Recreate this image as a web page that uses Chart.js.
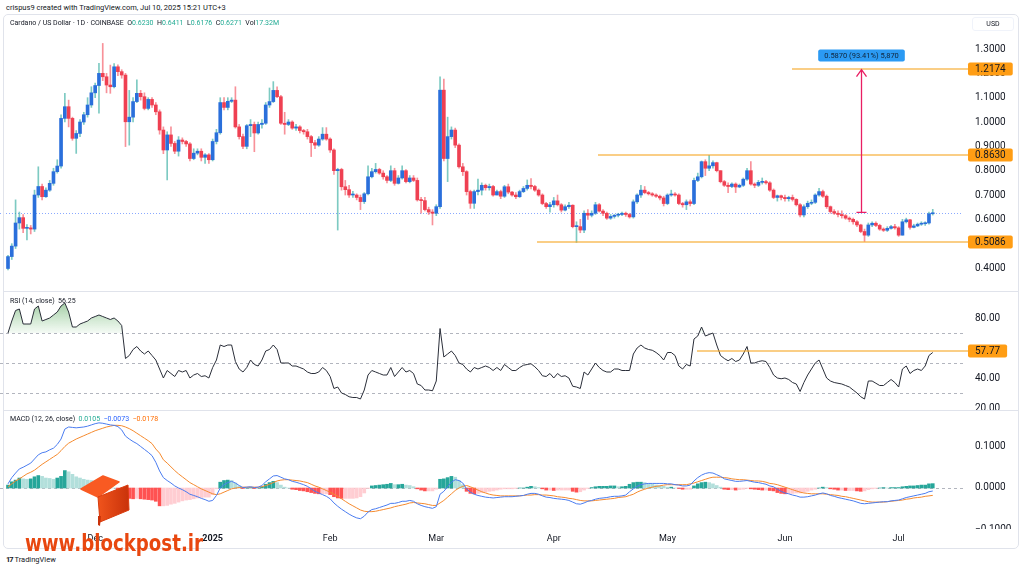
<!DOCTYPE html>
<html>
<head>
<meta charset="utf-8">
<title>Cardano / US Dollar · 1D · COINBASE</title>
<script src="https://cdn.jsdelivr.net/npm/chart.js@4.4.1/dist/chart.umd.min.js"></script>
<style>
  html, body { margin: 0; padding: 0; background: #fff; }
  body { width: 1024px; height: 570px; position: relative; overflow: hidden;
         font-family: Roboto, "Liberation Sans", Arial, sans-serif; color: #131722; }
  canvas { position: absolute; left: 0; }
  .abs { position: absolute; white-space: nowrap; }
  .hdr { left: 6px; top: 3px; font-size: 7.5px; line-height: 10px; }
  .frame { left: 3px; top: 14px; width: 1014px; height: 533px; border: 1px solid #e0e3eb;
           border-radius: 5px; pointer-events: none; z-index: 2; }
  .sep { left: 3px; width: 1015px; height: 1px; background: #e0e3eb; z-index: 2; }
  .legend { left: 10px; font-size: 7px; line-height: 9px; z-index: 3; }
  .usd { left: 972px; top: 17px; width: 40px; height: 12px; font-size: 7px; line-height: 12px;
         text-align: center; border: 1px solid #f0f3fa; border-radius: 3px; z-index: 3; }
  .mark { left: 25px; top: 530px; font-family: "DejaVu Sans", sans-serif;
          font-weight: bold; font-size: 23px; line-height: 26px; color: #e8470f; z-index: 4;
          transform-origin: left center; }
  .logo { left: 0; top: 0; z-index: 4; }
  .foot { left: 6px; top: 555px; font-size: 7.5px; line-height: 10px; }
</style>
</head>
<body>
<div class="abs hdr">crispus9 created with TradingView.com, Jul 10, 2025 15:21 UTC+3</div>

<canvas id="price" width="1024" height="260" style="top:31px"></canvas>
<canvas id="rsi" width="1024" height="119" style="top:291px"></canvas>
<canvas id="macd" width="1024" height="138" style="top:410px"></canvas>

<div class="abs frame"></div>
<div class="abs sep" style="top:291px"></div>
<div class="abs sep" style="top:410px"></div>
<div class="abs usd">USD</div>

<div class="abs legend" id="ohlc" style="top:19px"></div>
<div class="abs legend" id="rsiLegend" style="top:297px"></div>
<div class="abs legend" id="macdLegend" style="top:415px"></div>

<svg class="abs logo" width="140" height="530" viewBox="0 0 140 530">
  <defs>
    <linearGradient id="front" x1="0" y1="0" x2="1" y2="0">
      <stop offset="0" stop-color="#f0541c"/>
      <stop offset="1" stop-color="#c9320a"/>
    </linearGradient>
  </defs>
  <polygon points="81,489 103,476 119,482 98,497" fill="#f95a22" stroke="#f95a22" stroke-width="1.5" stroke-linejoin="round"/>
  <polygon points="98,497 128,485 129,510 100,522" fill="url(#front)" stroke="#d93c0d" stroke-width="1" stroke-linejoin="round"/>
  <polygon points="98,516 101,516 100,526 98,525" fill="#c9320a"/>
</svg>
<div class="abs mark" id="mark">www.blockpost.ir</div>
<div class="abs foot"><b style="letter-spacing:-1px">17</b>&nbsp;TradingView</div>

<script>
// Cardano / US Dollar, 1D, Coinbase: 8 Nov 2024 .. 10 Jul 2025 (index 0 = 8 Nov)
const firstOpen = 0.398;
const closes = [
  0.447, 0.49, 0.585, 0.607, 0.563, 0.565, 0.56, 0.70, 0.735, 0.693,
  0.72, 0.748, 0.796, 0.819, 1.015, 1.063, 1.015, 0.933, 0.953, 1.00,
  1.03, 1.07, 1.12, 1.15, 1.20, 1.186, 1.152, 1.145, 1.227, 1.207,
  1.193, 1.001, 1.02, 1.084, 1.118, 1.104, 1.056, 1.093, 1.07, 1.042,
  0.967, 0.885, 0.947, 0.912, 0.88, 0.926, 0.92, 0.91, 0.85, 0.872,
  0.88, 0.855, 0.865, 0.845, 0.92, 0.956, 1.08, 1.06, 1.085, 1.09,
  0.98, 0.94, 0.90, 0.985, 0.99, 0.955, 0.99, 0.995, 1.07, 1.084,
  1.13, 1.104, 0.995, 0.99, 1.0, 0.975, 0.98, 0.965, 0.96, 0.94,
  0.915, 0.905, 0.93, 0.95, 0.93, 0.885, 0.80, 0.805, 0.734, 0.722,
  0.70, 0.70, 0.69, 0.673, 0.705, 0.775, 0.796, 0.805, 0.79, 0.775,
  0.76, 0.80, 0.748, 0.77, 0.80, 0.755, 0.77, 0.76, 0.68, 0.677,
  0.64, 0.63, 0.625, 0.652, 1.131, 0.85, 0.94, 0.967, 0.905, 0.816,
  0.796, 0.714, 0.666, 0.714, 0.72, 0.74, 0.73, 0.735, 0.70, 0.714,
  0.695, 0.734, 0.712, 0.70, 0.693, 0.714, 0.727, 0.74, 0.735, 0.72,
  0.70, 0.665, 0.652, 0.66, 0.676, 0.66, 0.638, 0.652, 0.658, 0.57,
  0.57, 0.556, 0.625, 0.617, 0.625, 0.66, 0.634, 0.625, 0.605, 0.612,
  0.617, 0.62, 0.625, 0.62, 0.61, 0.672, 0.70, 0.72, 0.71, 0.705,
  0.70, 0.695, 0.688, 0.665, 0.70, 0.704, 0.70, 0.665, 0.66, 0.672,
  0.665, 0.76, 0.775, 0.837, 0.81, 0.82, 0.833, 0.80, 0.755, 0.74,
  0.735, 0.745, 0.733, 0.74, 0.765, 0.80, 0.745, 0.74, 0.752, 0.755,
  0.75, 0.72, 0.69, 0.697, 0.69, 0.685, 0.69, 0.682, 0.66, 0.618,
  0.652, 0.666, 0.67, 0.70, 0.714, 0.695, 0.652, 0.632, 0.625, 0.62,
  0.615, 0.605, 0.60, 0.59, 0.577, 0.55, 0.535, 0.577, 0.584, 0.575,
  0.56, 0.555, 0.563, 0.57, 0.565, 0.535, 0.59, 0.598, 0.567, 0.573,
  0.58, 0.582, 0.585, 0.623, 0.6271
];
const highs = [
  0.452, 0.50, 0.68, 0.63, 0.62, 0.578, 0.575, 0.72, 0.816, 0.745,
  0.73, 0.76, 0.81, 0.845, 1.03, 1.118, 1.09, 1.02, 0.965, 1.01,
  1.04, 1.10, 1.145, 1.16, 1.241, 1.323, 1.20, 1.234, 1.24, 1.235,
  1.215, 1.20, 1.13, 1.10, 1.173, 1.13, 1.12, 1.10, 1.10, 1.08,
  1.05, 0.98, 0.96, 0.98, 0.92, 0.94, 0.935, 0.925, 0.915, 0.89,
  0.89, 0.89, 0.87, 0.87, 0.93, 0.97, 1.10, 1.10, 1.10, 1.10,
  1.145, 0.99, 0.95, 0.99, 1.01, 1.0, 1.0, 1.01, 1.08, 1.14,
  1.166, 1.145, 1.11, 1.04, 1.01, 1.005, 0.99, 0.985, 0.97, 0.97,
  0.945, 0.925, 0.94, 0.977, 0.977, 0.935, 0.89, 0.81, 0.81, 0.76,
  0.74, 0.715, 0.705, 0.70, 0.71, 0.82, 0.81, 0.83, 0.81, 0.80,
  0.78, 0.82, 0.81, 0.78, 0.82, 0.805, 0.78, 0.78, 0.77, 0.69,
  0.69, 0.65, 0.64, 0.66, 1.186, 1.176, 1.02, 0.98, 0.975, 0.91,
  0.83, 0.80, 0.72, 0.72, 0.765, 0.75, 0.745, 0.745, 0.74, 0.72,
  0.72, 0.74, 0.745, 0.715, 0.71, 0.72, 0.735, 0.762, 0.768, 0.74,
  0.725, 0.705, 0.67, 0.67, 0.69, 0.70, 0.665, 0.66, 0.67, 0.66,
  0.59, 0.60, 0.635, 0.64, 0.635, 0.67, 0.665, 0.64, 0.63, 0.62,
  0.62, 0.625, 0.63, 0.63, 0.625, 0.68, 0.705, 0.74, 0.735, 0.715,
  0.71, 0.705, 0.70, 0.695, 0.705, 0.72, 0.71, 0.705, 0.67, 0.68,
  0.68, 0.77, 0.79, 0.84, 0.845, 0.863, 0.84, 0.835, 0.80, 0.76,
  0.75, 0.75, 0.75, 0.745, 0.77, 0.81, 0.837, 0.75, 0.76, 0.77,
  0.76, 0.755, 0.725, 0.70, 0.70, 0.70, 0.695, 0.70, 0.685, 0.665,
  0.66, 0.675, 0.68, 0.705, 0.727, 0.72, 0.70, 0.655, 0.64, 0.635,
  0.635, 0.62, 0.61, 0.605, 0.595, 0.58, 0.56, 0.585, 0.59, 0.59,
  0.58, 0.565, 0.57, 0.575, 0.58, 0.57, 0.60, 0.605, 0.60, 0.58,
  0.585, 0.59, 0.59, 0.63, 0.6411
];
const lows = [
  0.392, 0.435, 0.48, 0.56, 0.545, 0.515, 0.54, 0.55, 0.69, 0.68,
  0.69, 0.715, 0.74, 0.79, 0.81, 1.0, 0.98, 0.925, 0.871, 0.94,
  0.99, 1.02, 1.06, 1.10, 1.036, 1.17, 1.12, 1.118, 1.14, 1.19,
  1.18, 0.899, 0.905, 1.0, 1.08, 1.09, 1.05, 1.05, 1.06, 1.03,
  0.95, 0.87, 0.762, 0.90, 0.87, 0.86, 0.91, 0.90, 0.84, 0.845,
  0.865, 0.84, 0.83, 0.83, 0.84, 0.91, 0.95, 1.05, 1.05, 1.08,
  0.975, 0.93, 0.89, 0.89, 0.94, 0.878, 0.95, 0.975, 0.99, 1.06,
  1.08, 1.10, 0.99, 0.95, 0.985, 0.97, 0.965, 0.955, 0.95, 0.93,
  0.858, 0.89, 0.90, 0.925, 0.925, 0.875, 0.785, 0.556, 0.72, 0.70,
  0.69, 0.69, 0.68, 0.64, 0.665, 0.70, 0.77, 0.79, 0.785, 0.765,
  0.75, 0.755, 0.74, 0.745, 0.765, 0.75, 0.75, 0.755, 0.675, 0.625,
  0.635, 0.62, 0.577, 0.615, 0.645, 0.84, 0.755, 0.93, 0.895, 0.81,
  0.78, 0.70, 0.645, 0.645, 0.70, 0.70, 0.72, 0.72, 0.695, 0.70,
  0.685, 0.69, 0.705, 0.695, 0.685, 0.69, 0.71, 0.72, 0.725, 0.715,
  0.695, 0.66, 0.645, 0.63, 0.65, 0.655, 0.63, 0.635, 0.645, 0.565,
  0.505, 0.545, 0.545, 0.60, 0.61, 0.62, 0.63, 0.615, 0.60, 0.60,
  0.605, 0.61, 0.615, 0.612, 0.605, 0.605, 0.665, 0.69, 0.705, 0.70,
  0.695, 0.69, 0.68, 0.655, 0.66, 0.695, 0.695, 0.66, 0.65, 0.64,
  0.655, 0.66, 0.755, 0.77, 0.78, 0.80, 0.81, 0.795, 0.75, 0.735,
  0.71, 0.73, 0.71, 0.73, 0.735, 0.76, 0.74, 0.73, 0.735, 0.745,
  0.745, 0.715, 0.685, 0.675, 0.68, 0.675, 0.675, 0.675, 0.655, 0.61,
  0.61, 0.645, 0.66, 0.665, 0.695, 0.69, 0.645, 0.625, 0.62, 0.61,
  0.605, 0.60, 0.59, 0.58, 0.57, 0.545, 0.509, 0.53, 0.57, 0.57,
  0.555, 0.55, 0.55, 0.56, 0.56, 0.53, 0.535, 0.585, 0.56, 0.565,
  0.57, 0.575, 0.575, 0.58, 0.6176
];
const volumeText = '17.32M';

// RSI (14, close)
const rsi = [
  70, 78, 85, 86, 76, 76, 76, 86, 88, 78,
  79, 80, 82, 84, 88, 90, 84, 74, 74, 76,
  77, 78, 80, 81, 82, 81, 80, 79, 80, 78,
  75, 53, 55, 59, 61, 58, 56, 58, 55, 52,
  46, 40, 45, 43, 41, 45, 44, 45, 40, 42,
  43, 41, 41.5, 40, 47, 52, 62, 61, 62, 62,
  51, 46, 44, 47, 52, 49, 48, 52, 58, 59,
  62, 59, 50, 50, 50, 48, 48, 47, 46, 44,
  43, 43, 44, 47, 45, 41, 33, 34, 30, 29,
  27.5, 27, 27, 26, 32, 42, 45, 44, 43, 42,
  42, 47, 41, 44, 47, 44, 45, 43, 36, 35,
  32, 32, 31.5, 38, 73, 54, 56, 58, 55, 50,
  49, 46, 44, 47, 46, 47, 48, 47, 45, 47,
  45, 49, 47, 45, 45, 47, 48.5, 49, 49.5, 47.5,
  45, 41.5, 41, 43, 40, 43, 41, 41.5, 40, 34.5,
  34, 33, 44, 42, 46, 50, 47, 45, 44, 44,
  46, 46, 45, 45, 45, 56, 60, 62, 60, 59,
  58.5, 57, 55, 52, 57, 57, 55, 48, 46, 49,
  48, 66, 68, 74, 68, 69, 70, 62, 55, 53,
  51.5, 53, 51, 52, 56, 61, 50, 50, 51, 51.5,
  51, 47, 42, 40, 39.5, 40, 39, 37, 36, 31,
  37, 42, 46, 50, 52, 46, 40, 38, 37, 36.5,
  36, 35, 34, 32, 30, 27.5, 26, 38, 38, 36.5,
  35, 35, 37, 39, 37, 34, 46, 48, 43, 45,
  46, 45, 48, 55, 57
];
const rsiLegendValue = '56.25';

// MACD (12, 26, close)
const macd = [
  0.010, 0.025, 0.036, 0.046, 0.050, 0.055, 0.060, 0.070, 0.080, 0.085,
  0.087, 0.092, 0.096, 0.105, 0.118, 0.142, 0.147, 0.146, 0.145, 0.146,
  0.147, 0.149, 0.152, 0.155, 0.157, 0.156, 0.154, 0.152, 0.151, 0.148,
  0.140, 0.125, 0.118, 0.112, 0.107, 0.100, 0.093, 0.086, 0.078, 0.062,
  0.041, 0.025, 0.018, 0.012, 0.005, 0.000, -0.004, -0.009, -0.015, -0.018,
  -0.021, -0.025, -0.028, -0.032, -0.030, -0.018, 0.000, 0.008, 0.013, 0.016,
  0.012, 0.006, 0.001, 0.002, 0.003, 0.001, 0.002, 0.006, 0.015, 0.022,
  0.029, 0.030, 0.026, 0.022, 0.020, 0.016, 0.014, 0.011, 0.008, 0.004,
  -0.002, -0.008, -0.012, -0.016, -0.020, -0.026, -0.036, -0.044, -0.051, -0.057,
  -0.063, -0.068, -0.072, -0.074, -0.068, -0.058, -0.052, -0.050, -0.047, -0.044,
  -0.041, -0.037, -0.037, -0.035, -0.032, -0.032, -0.030, -0.032, -0.038, -0.042,
  -0.045, -0.047, -0.049, -0.045, -0.015, -0.008, 0.003, 0.014, 0.020, 0.018,
  0.012, -0.002, -0.010, -0.015, -0.018, -0.020, -0.022, -0.023, -0.024, -0.023,
  -0.022, -0.021, -0.021, -0.021, -0.020, -0.019, -0.018, -0.015, -0.013, -0.013,
  -0.015, -0.019, -0.022, -0.023, -0.025, -0.026, -0.027, -0.028, -0.030, -0.034,
  -0.038, -0.039, -0.036, -0.032, -0.030, -0.027, -0.025, -0.024, -0.023, -0.021,
  -0.020, -0.020, -0.019, -0.017, -0.009, -0.002, 0.004, 0.008, 0.010, 0.011,
  0.011, 0.011, 0.011, 0.011, 0.010, 0.010, 0.008, 0.007, 0.005, 0.005,
  0.007, 0.017, 0.025, 0.031, 0.035, 0.037, 0.036, 0.032, 0.028, 0.022,
  0.020, 0.018, 0.016, 0.016, 0.017, 0.018, 0.016, 0.014, 0.013, 0.011,
  0.009, 0.005, 0.003, -0.003, -0.008, -0.012, -0.014, -0.017, -0.019, -0.022,
  -0.022, -0.021, -0.019, -0.017, -0.014, -0.012, -0.014, -0.018, -0.020, -0.023,
  -0.025, -0.027, -0.029, -0.031, -0.034, -0.037, -0.038, -0.037, -0.036, -0.035,
  -0.034, -0.033, -0.033, -0.031, -0.030, -0.029, -0.026, -0.023, -0.021, -0.019,
  -0.017, -0.015, -0.013, -0.009, -0.0073
];
const signal = [
  0.003, 0.010, 0.017, 0.022, 0.028, 0.034, 0.038, 0.043, 0.050, 0.057,
  0.063, 0.069, 0.075, 0.081, 0.090, 0.100, 0.108, 0.113, 0.118, 0.122,
  0.126, 0.130, 0.134, 0.138, 0.141, 0.144, 0.147, 0.149, 0.151, 0.151,
  0.150, 0.147, 0.143, 0.138, 0.132, 0.126, 0.120, 0.114, 0.107, 0.094,
  0.084, 0.068, 0.060, 0.051, 0.042, 0.034, 0.027, 0.020, 0.013, 0.008,
  0.003, -0.002, -0.006, -0.010, -0.014, -0.016, -0.014, -0.010, -0.006, -0.002,
  0.000, 0.001, 0.002, 0.002, 0.002, 0.002, 0.002, 0.003, 0.006, 0.009,
  0.013, 0.017, 0.019, 0.020, 0.020, 0.019, 0.018, 0.017, 0.015, 0.013,
  0.009, 0.005, 0.002, -0.002, -0.006, -0.010, -0.015, -0.020, -0.026, -0.032,
  -0.038, -0.043, -0.048, -0.053, -0.056, -0.057, -0.057, -0.056, -0.054, -0.052,
  -0.050, -0.048, -0.045, -0.043, -0.041, -0.039, -0.036, -0.035, -0.036, -0.037,
  -0.038, -0.040, -0.042, -0.042, -0.036, -0.030, -0.022, -0.014, -0.006, 0.000,
  0.004, 0.006, 0.003, -0.001, -0.005, -0.009, -0.012, -0.015, -0.017, -0.018,
  -0.019, -0.019, -0.019, -0.019, -0.019, -0.019, -0.018, -0.017, -0.017, -0.016,
  -0.016, -0.017, -0.017, -0.018, -0.019, -0.021, -0.022, -0.023, -0.025, -0.026,
  -0.028, -0.030, -0.031, -0.031, -0.031, -0.030, -0.029, -0.028, -0.027, -0.026,
  -0.025, -0.023, -0.022, -0.021, -0.018, -0.015, -0.010, -0.006, -0.003, 0.000,
  0.002, 0.004, 0.005, 0.007, 0.008, 0.008, 0.008, 0.008, 0.008, 0.008,
  0.010, 0.012, 0.015, 0.018, 0.021, 0.024, 0.026, 0.026, 0.026, 0.025,
  0.024, 0.022, 0.021, 0.020, 0.020, 0.019, 0.018, 0.017, 0.017, 0.016,
  0.014, 0.011, 0.010, 0.008, 0.005, 0.002, -0.001, -0.004, -0.007, -0.010,
  -0.012, -0.013, -0.014, -0.014, -0.014, -0.014, -0.015, -0.016, -0.017, -0.018,
  -0.020, -0.021, -0.023, -0.025, -0.027, -0.029, -0.031, -0.033, -0.034, -0.034,
  -0.034, -0.034, -0.033, -0.032, -0.031, -0.030, -0.029, -0.027, -0.026, -0.024,
  -0.023, -0.022, -0.020, -0.019, -0.0178
];
const hist = [
  0.007, 0.015, 0.019, 0.024, 0.022, 0.021, 0.022, 0.027, 0.030, 0.028,
  0.024, 0.023, 0.021, 0.024, 0.028, 0.042, 0.039, 0.033, 0.027, 0.024,
  0.021, 0.019, 0.018, 0.017, 0.016, 0.012, 0.007, 0.003, 0.000, -0.003,
  -0.010, -0.022, -0.025, -0.026, -0.025, -0.026, -0.027, -0.028, -0.029, -0.032,
  -0.043, -0.043, -0.042, -0.039, -0.037, -0.034, -0.031, -0.029, -0.028, -0.026,
  -0.024, -0.023, -0.022, -0.022, -0.016, -0.002, 0.014, 0.018, 0.019, 0.018,
  0.012, 0.005, -0.001, 0.000, 0.001, -0.001, 0.000, 0.003, 0.009, 0.013,
  0.016, 0.013, 0.007, 0.002, 0.000, -0.003, -0.004, -0.006, -0.007, -0.009,
  -0.011, -0.013, -0.014, -0.014, -0.014, -0.016, -0.021, -0.024, -0.025, -0.025,
  -0.025, -0.025, -0.024, -0.021, -0.012, -0.001, 0.005, 0.006, 0.007, 0.008,
  0.009, 0.011, 0.008, 0.008, 0.009, 0.007, 0.006, 0.003, -0.002, -0.005,
  -0.007, -0.007, -0.007, -0.003, 0.021, 0.022, 0.025, 0.028, 0.026, 0.018,
  0.008, -0.008, -0.013, -0.014, -0.013, -0.011, -0.010, -0.008, -0.007, -0.005,
  -0.003, -0.002, -0.002, -0.002, -0.001, 0.000, 0.000, 0.002, 0.004, 0.003,
  0.001, -0.002, -0.005, -0.005, -0.006, -0.005, -0.005, -0.005, -0.005, -0.008,
  -0.010, -0.009, -0.005, -0.001, 0.001, 0.003, 0.004, 0.004, 0.004, 0.005,
  0.005, 0.003, 0.003, 0.004, 0.009, 0.013, 0.014, 0.014, 0.013, 0.011,
  0.009, 0.007, 0.006, 0.004, 0.002, 0.002, 0.000, -0.001, -0.003, -0.003,
  -0.003, 0.005, 0.010, 0.013, 0.014, 0.013, 0.010, 0.006, 0.002, -0.003,
  -0.004, -0.004, -0.005, -0.004, -0.003, -0.001, -0.002, -0.003, -0.004, -0.005,
  -0.005, -0.006, -0.007, -0.011, -0.013, -0.014, -0.013, -0.013, -0.012, -0.012,
  -0.010, -0.008, -0.005, -0.003, 0.000, 0.002, 0.001, -0.002, -0.003, -0.005,
  -0.005, -0.006, -0.006, -0.006, -0.007, -0.008, -0.007, -0.004, -0.002, -0.001,
  0.000, 0.001, 0.000, 0.001, 0.001, 0.001, 0.003, 0.004, 0.005, 0.005,
  0.006, 0.007, 0.007, 0.010, 0.0105
];

// axis ticks (the 60.00 RSI tick sits under the 57.77 marker and is hidden there)
const monthIdx = [23, 54, 85, 113, 144, 174, 205, 235];
const monthLabels = ['Dec', '2025', 'Feb', 'Mar', 'Apr', 'May', 'Jun', 'Jul'];
const priceTicks = [0.4, 0.5, 0.6, 0.7, 0.8, 0.9, 1.0, 1.1, 1.2, 1.3];
const rsiTicks = [20, 40, 80];
const rsiBands = [70, 50, 30];
const macdTicks = [-0.1, 0, 0.1];

// drawings on the chart
const levelPrices = [1.2174, 0.8630, 0.5086];
const levelStartIdx = [206.8, 155.7, 139.6];
const measureIdx = 225.1;
const measureFrom = 0.6284;
const measureTo = 1.2154;
const measureText = '0.5870 (93.41%) 5,870';
const rsiLevel = 57.77;
const rsiLevelStartIdx = 181.7;

const n = closes.length;
[highs, lows, rsi, macd, signal, hist].forEach(a => {
  if (a.length !== n) throw new Error('length mismatch ' + a.length + ' vs ' + n);
});

// visible window of each pane
const X_MIN = -2.11, X_MAX = 251.98;
const PRICE_MIN = 0.3055, PRICE_MAX = 1.3741;
const RSI_MIN = 18.667, RSI_MAX = 98;
const MACD_MIN = -0.0988, MACD_MAX = 0.18795;

const UP = '#2a6fdb', DOWN = '#ef4052';
const UP_WICK = 'rgba(38,166,154,0.6)', DOWN_WICK = 'rgba(242,54,69,0.55)';
const LEVEL = 'rgba(245,166,35,0.55)', LEVEL_BOX = '#ff9d14';
const FONT = 'Roboto, "Liberation Sans", Arial, sans-serif';

Chart.defaults.font.family = FONT;
Chart.defaults.color = '#131722';

const minus = (v, d) => (v < 0 ? '\u2212' : '') + Math.abs(v).toFixed(d);

// legends
const last = n - 1;
const lastOpen = closes[last - 1];
const g = s => '<span style="color:#22ab94">' + s + '</span>';
document.getElementById('ohlc').innerHTML =
  'Cardano / US Dollar \u00b7 1D \u00b7 COINBASE&nbsp;&nbsp;O' + g(lastOpen.toFixed(4)) +
  '&nbsp; H' + g(highs[last].toFixed(4)) + '&nbsp; L' + g(lows[last].toFixed(4)) +
  '&nbsp; C' + g(closes[last].toFixed(4)) + '&nbsp; Vol' + g(volumeText);
document.getElementById('rsiLegend').innerHTML = 'RSI (14, close)&nbsp;&nbsp;' + rsiLegendValue;
document.getElementById('macdLegend').innerHTML = 'MACD (12, 26, close)&nbsp;&nbsp;' +
  g(minus(hist[last], 4)) + '&nbsp;&nbsp;<span style="color:#2962ff">' + minus(macd[last], 4) +
  '</span>&nbsp;&nbsp;<span style="color:#ff6d00">' + minus(signal[last], 4) + '</span>';

const mark = document.getElementById('mark');
mark.style.transform = 'scaleX(' + (178 / mark.offsetWidth) + ')';

// candles: daily opens on Coinbase equal the previous close
const opens = closes.map((c, i) => (i === 0 ? firstOpen : closes[i - 1]));
const isUp = closes.map((c, i) => c >= opens[i]);
const bodies = closes.map((c, i) => ({ x: i, y: [opens[i], c] }));
const wicks = closes.map((c, i) => ({
  x: i, y: [Math.min(lows[i], opens[i], c), Math.max(highs[i], opens[i], c)]
}));

function xAxis(show) {
  return {
    type: 'linear', min: X_MIN, max: X_MAX, offset: false, bounds: 'data', display: show,
    grid: { display: false, drawTicks: false }, border: { display: false },
    afterBuildTicks: s => { s.ticks = monthIdx.map(v => ({ value: v })); },
    afterFit: s => {
      if (show) s.height = 19;
      s.paddingLeft = 0; s.paddingRight = 0;
    },
    ticks: {
      autoSkip: false, maxRotation: 0, padding: 4, color: '#131722',
      font: c => ({ size: 9, weight: monthLabels[c.index] === '2025' ? 'bold' : 'normal' }),
      callback: (v, i) => monthLabels[i]
    }
  };
}

function yAxis(min, max, ticks, fmt) {
  return {
    type: 'linear', position: 'right', min, max, bounds: 'data', grace: 0,
    grid: { display: false, drawTicks: false }, border: { display: false },
    afterBuildTicks: s => { s.ticks = ticks.map(v => ({ value: v })); },
    afterFit: s => { s.width = 61; s.paddingTop = 0; s.paddingBottom = 0; },
    ticks: { autoSkip: false, padding: 12, color: '#131722', font: { size: 10 }, callback: v => fmt(v) }
  };
}

const baseOptions = {
  responsive: false, animation: false, devicePixelRatio: 1,
  layout: { padding: 0 },
  plugins: { legend: { display: false }, tooltip: { enabled: false } }
};

function axisBox(chart, value, text) {
  const { ctx, chartArea, scales } = chart;
  const y = Math.round(scales.y.getPixelForValue(value));
  ctx.save();
  ctx.font = '10px ' + FONT;
  const w = ctx.measureText(text).width + 14;
  const x = chartArea.right + 5;
  ctx.fillStyle = LEVEL_BOX;
  ctx.beginPath(); ctx.roundRect(x, y - 6.5, w, 13, 2); ctx.fill();
  ctx.fillStyle = '#131722'; ctx.textBaseline = 'middle'; ctx.textAlign = 'left';
  ctx.fillText(text, x + 7, y + 0.5);
  ctx.restore();
}

// horizontal rule at a value of the pane's y scale
function levelRule(chart, value, fromX, toX) {
  const { ctx, scales } = chart;
  const y = scales.y.getPixelForValue(value);
  ctx.save();
  ctx.fillStyle = LEVEL;
  ctx.fillRect(Math.round(fromX), Math.round(y) - 1, Math.round(toX - fromX), 2);
  ctx.restore();
}

function dashedRule(chart, value, color, dash) {
  const { ctx, chartArea, scales } = chart;
  const y = Math.round(scales.y.getPixelForValue(value)) + 0.5;
  ctx.save();
  ctx.strokeStyle = color; ctx.lineWidth = 1; ctx.setLineDash(dash);
  ctx.beginPath(); ctx.moveTo(chartArea.left, y); ctx.lineTo(chartArea.right, y); ctx.stroke();
  ctx.restore();
}

const pricePane = {
  id: 'pricePane',
  beforeDatasetsDraw(chart) {
    dashedRule(chart, closes[last], 'rgba(41,98,255,0.55)', [1, 2]);
  },
  afterDraw(chart) {
    const { ctx, chartArea, scales: { x, y } } = chart;
    levelPrices.forEach((p, k) => {
      levelRule(chart, p, x.getPixelForValue(levelStartIdx[k]), chartArea.right + 5);
      axisBox(chart, p, p.toFixed(4));
    });
    // price range measurement
    const ax = Math.round(x.getPixelForValue(measureIdx)) + 0.5;
    const yTop = y.getPixelForValue(measureTo), yBot = y.getPixelForValue(measureFrom);
    ctx.save();
    ctx.strokeStyle = '#e91e63'; ctx.lineWidth = 1.3;
    ctx.beginPath();
    ctx.moveTo(ax, yBot); ctx.lineTo(ax, yTop);
    ctx.moveTo(ax - 5, yTop + 7); ctx.lineTo(ax, yTop); ctx.lineTo(ax + 5, yTop + 7);
    ctx.moveTo(ax - 5, yBot); ctx.lineTo(ax + 5, yBot);
    ctx.stroke();
    ctx.font = '7.5px ' + FONT;
    const bw = ctx.measureText(measureText).width + 12;
    ctx.fillStyle = '#2b9af3';
    ctx.beginPath(); ctx.roundRect(ax - bw / 2, yTop - 20, bw, 12, 2); ctx.fill();
    ctx.fillStyle = '#10243a'; ctx.textAlign = 'center'; ctx.textBaseline = 'middle';
    ctx.fillText(measureText, ax, yTop - 13.5);
    ctx.restore();
  }
};

new Chart(document.getElementById('price'), {
  type: 'bar',
  data: {
    datasets: [
      { data: bodies, backgroundColor: isUp.map(u => (u ? UP : DOWN)),
        barThickness: 3, minBarLength: 1, grouped: false, order: 0 },
      { data: wicks, backgroundColor: isUp.map(u => (u ? UP_WICK : DOWN_WICK)),
        barThickness: 1, grouped: false, order: 1 }
    ]
  },
  options: {
    ...baseOptions,
    scales: {
      x: xAxis(false),
      y: yAxis(PRICE_MIN, PRICE_MAX, priceTicks, v => v.toFixed(4))
    }
  },
  plugins: [pricePane]
});

const rsiPane = {
  id: 'rsiPane',
  beforeDatasetsDraw(chart) {
    rsiBands.forEach(v => dashedRule(chart, v, '#b2b5be', [3, 3]));
  },
  afterDraw(chart) {
    const { chartArea, scales: { x } } = chart;
    levelRule(chart, rsiLevel, x.getPixelForValue(rsiLevelStartIdx), chartArea.right + 5);
    axisBox(chart, rsiLevel, rsiLevel.toFixed(2));
  }
};

new Chart(document.getElementById('rsi'), {
  type: 'line',
  data: {
    datasets: [{
      data: rsi.map((v, i) => ({ x: i, y: v })),
      borderColor: '#2a2e39', borderWidth: 1, pointRadius: 0, tension: 0,
      fill: { target: { value: 70 }, below: 'rgba(0,0,0,0)' },
      backgroundColor: c => {
        const { chart } = c;
        if (!chart.chartArea) return 'rgba(76,175,80,0.25)';
        const y = chart.scales.y;
        const grad = chart.ctx.createLinearGradient(0, y.getPixelForValue(92), 0, y.getPixelForValue(70));
        grad.addColorStop(0, 'rgba(56,142,60,0.5)');
        grad.addColorStop(1, 'rgba(76,175,80,0.06)');
        return grad;
      }
    }]
  },
  options: {
    ...baseOptions,
    scales: {
      x: xAxis(false),
      y: yAxis(RSI_MIN, RSI_MAX, rsiTicks, v => v.toFixed(2))
    }
  },
  plugins: [rsiPane]
});

const histColors = hist.map((h, i) => {
  const prev = i ? hist[i - 1] : 0;
  if (h >= 0) return h >= prev ? '#26a69a' : '#b2dfdb';
  return h < prev ? '#ff5252' : '#ffcdd2';
});

const macdPane = {
  id: 'macdPane',
  beforeDatasetsDraw(chart) {
    dashedRule(chart, 0, '#b2b5be', [3, 3]);
  },
  afterDraw(chart) {
    // the pane clips its price scale at the bottom edge
    const { ctx, chartArea, width, height } = chart;
    ctx.save();
    ctx.fillStyle = '#fff';
    ctx.fillRect(chartArea.right + 1, chartArea.bottom, width - chartArea.right, height - chartArea.bottom);
    ctx.restore();
  }
};

new Chart(document.getElementById('macd'), {
  type: 'bar',
  data: {
    datasets: [
      { type: 'line', data: macd.map((v, i) => ({ x: i, y: v })), borderColor: '#4a7cf0',
        borderWidth: 1, pointRadius: 0, tension: 0, order: 0 },
      { type: 'line', data: signal.map((v, i) => ({ x: i, y: v })), borderColor: '#f58a2e',
        borderWidth: 1, pointRadius: 0, tension: 0, order: 1 },
      { data: hist.map((v, i) => ({ x: i, y: v })), backgroundColor: histColors,
        barThickness: 3, grouped: false, order: 2 }
    ]
  },
  options: {
    ...baseOptions,
    scales: {
      x: xAxis(true),
      y: yAxis(MACD_MIN, MACD_MAX, macdTicks, v => minus(v, 4))
    }
  },
  plugins: [macdPane]
});
</script>
</body>
</html>
